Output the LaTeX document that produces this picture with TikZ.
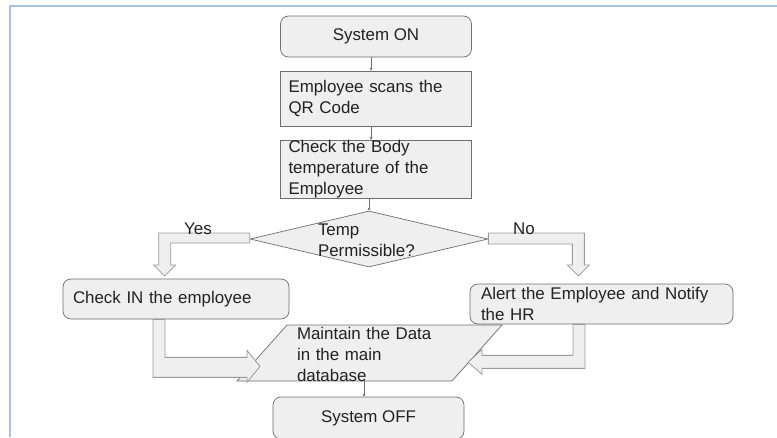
\documentclass[tikz,border=0pt]{standalone}
\usepackage{fontspec}
\setmainfont{Liberation Sans}
\usepackage{tikz}
\usetikzlibrary{shapes.geometric, arrows.meta, calc, positioning}
\definecolor{boxfill}{HTML}{EFEFEF}
\definecolor{boxline}{HTML}{6E6E6E}
\definecolor{arrowline}{HTML}{9A9A9A}
\definecolor{framecol}{HTML}{A4C2E8}
\definecolor{inkcol}{HTML}{222222}

\tikzset{
  every node/.style={font=\fontsize{16.9}{21}\selectfont, text=inkcol},
  stepround/.style={draw=boxline, fill=boxfill, rounded corners=8pt, line width=0.7pt},
  stepbox/.style={draw=boxline, fill=boxfill, line width=0.7pt, align=left, inner ysep=0pt},
  decision/.style={diamond, draw=boxline, fill=boxfill, line width=0.7pt, inner sep=2pt},
  datastore/.style={draw=boxline, fill=boxfill, line width=0.7pt, line join=miter},
  link/.style={draw=boxline, line width=0.7pt, -{Stealth[length=3pt,width=3pt]}},
  blockarrow/.style={draw=arrowline, fill=boxfill, line width=0.8pt, line join=miter},
  frame/.style={draw=framecol, line width=2pt}
}

\begin{document}
\begin{tikzpicture}[x=1pt, y=-1pt]
        \useasboundingbox (0,0) rectangle (777,437);
        \clip (0,0) rectangle (777,437);
        % page frame
        \draw[frame] (10,437) -- (10,5.5) -- (777,5.5);

        % main column
        \node[stepround, minimum width=191pt, minimum height=41pt] (on) at (376,36.5) {System ON};
        \node[stepbox, text width=175pt, inner xsep=8pt, minimum height=55pt] (scan) at (376,98.5) {Employee scans the\\QR Code};
        \node[stepbox, text width=175pt, inner xsep=8pt, minimum height=57pt] (body) at (376,169) {Check the Body\\temperature of the\\Employee};

        % decision
        \node[decision, minimum width=238pt, minimum height=56pt] (dec) at (369,239) {};
        \node[align=left, text width=100pt, inner sep=0pt] (dectext) at (368,240) {Temp\\Permissible?};

        % outcomes
        \node[stepround, text width=206pt, inner xsep=10pt, minimum height=40pt, align=left] (checkin) at (176,299) {Check IN the employee};
        \node[stepround, text width=241pt, inner xsep=11pt, inner ysep=0pt, minimum height=40pt, align=left] (alert) at (601.5,304) {Alert the Employee and Notify\\the HR};

        % data store (parallelogram) and end
        \coordinate (storec) at (369.5,353);
        \draw[datastore] ($(storec)+(-132.5,28)$) -- ++(50,-56) -- ++(215,0) -- ++(-50,56) -- cycle;
        \node[align=left, text width=140pt, inner sep=0pt] (store) at ($(storec)+(-2.5,1)$) {Maintain the Data\\in the main\\database};
        \node[stepround, minimum width=191pt, minimum height=42pt] (off) at (368.5,418) {System OFF};

        % thin connectors
        \draw[link] ([xshift=-5pt]on.south) -- ([xshift=-5pt]scan.north);
        \draw[link] ([xshift=-5pt]scan.south) -- ([xshift=-5pt]body.north);
        \draw[link] (body.south -| dec.north) -- (dec.north);
        \draw[link] ([xshift=-4.5pt,yshift=16pt]off.north) -- ([xshift=-4.5pt]off.north);

        % yes branch
        \draw[blockarrow] ($(dec.west)+(0,-6)$) -- ++(-91,0) -- ++(0,32) -- ++(-5,0) -- ++(11,11) -- ++(11,-11) -- ++(-5,0) -- ++(0,-22) -- ++(79,0) -- cycle;
        % no branch
        \draw[blockarrow] ($(dec.east)+(0,-6)$) -- ++(96,0) -- ++(0,32) -- ++(5,0) -- ++(-11,11) -- ++(-11,-11) -- ++(5,0) -- ++(0,-21) -- ++(-84,0) -- cycle;
        % into the data store
        \draw[blockarrow] ($(checkin.south)+(-23,0)$) -- ++(0,58) -- ++(94,0) -- ++(0,5) -- ++(13,-16) -- ++(-13,-16) -- ++(0,7) -- ++(-82,0) -- ++(0,-38) -- cycle;
        \draw[blockarrow] ($(alert.south)+(-16.5,0)$) -- ++(0,44) -- ++(-103,0) -- ++(0,6) -- ++(-14,-12) -- ++(14,-13) -- ++(0,6) -- ++(91,0) -- ++(0,-31) -- cycle;

        % branch labels
        \node (yes) at (198,229) {Yes};
        \node (no) at (524,229) {No};
\end{tikzpicture}
\end{document}
